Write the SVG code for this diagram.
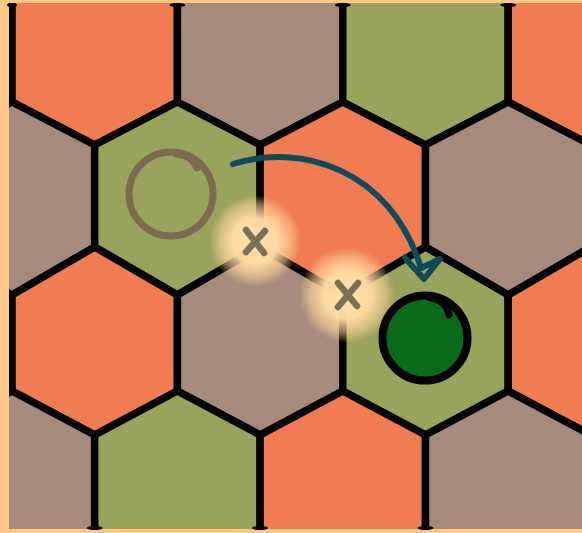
<svg xmlns="http://www.w3.org/2000/svg" width="582" height="533" viewBox="0 0 582 533">
  <style>
    .hex { stroke: #000; stroke-width: 7.5; stroke-linejoin: miter; }
    .o { fill: #F07C52; }
    .g { fill: #A48B7D; }
    .v { fill: #9AA35B; }
    .cap { fill: #000; }
    .xm { stroke: #7A7152; stroke-width: 6.5; stroke-linecap: round; fill: none; }
    .arrow { stroke: #0E4A5A; stroke-width: 6; fill: none; stroke-linecap: round; stroke-linejoin: round; }
  </style>
  <defs>
    <clipPath id="board">
      <rect x="9" y="3" width="580" height="526"/>
    </clipPath>
    <radialGradient id="glow" cx="0.5" cy="0.5" r="0.5">
      <stop offset="0" stop-color="#FFE2AE" stop-opacity="1"/>
      <stop offset="0.5" stop-color="#FFDBA2" stop-opacity="0.97"/>
      <stop offset="0.78" stop-color="#FFD49A" stop-opacity="0.55"/>
      <stop offset="1" stop-color="#FFD49A" stop-opacity="0"/>
    </radialGradient>
  </defs>
  <rect x="0" y="0" width="582" height="533" fill="#FFC884"/>
  <g id="grid" clip-path="url(#board)">
    <!-- Row 1 -->
    <polygon id="hex-r1c1" class="hex o" points="12,-60 177.4,-60 177.4,102 94.7,145 12,102"/>
    <polygon id="hex-r1c2" class="hex g" points="177.4,-60 342.8,-60 342.8,102 260.1,145 177.4,102"/>
    <polygon id="hex-r1c3" class="hex v" points="342.8,-60 508.2,-60 508.2,102 425.5,145 342.8,102"/>
    <polygon id="hex-r1c4" class="hex o" points="508.2,-60 673.6,-60 673.6,102 590.9,145 508.2,102"/>
    <!-- Row 2 -->
    <polygon id="hex-r2c0" class="hex g" points="12,102 94.7,145 94.7,247 12,295 -70.7,247 -70.7,145"/>
    <polygon id="hex-r2c1" class="hex v" points="177.4,102 260.1,145 260.1,247 177.4,295 94.7,247 94.7,145"/>
    <polygon id="hex-r2c2" class="hex o" points="342.8,102 425.5,145 425.5,247 342.8,295 260.1,247 260.1,145"/>
    <polygon id="hex-r2c3" class="hex g" points="508.2,102 590.9,145 590.9,247 508.2,295 425.5,247 425.5,145"/>
    <!-- Row 3 -->
    <polygon id="hex-r3c1" class="hex o" points="94.7,247 177.4,295 177.4,391 94.7,435 12,391 12,295"/>
    <polygon id="hex-r3c2" class="hex g" points="260.1,247 342.8,295 342.8,391 260.1,435 177.4,391 177.4,295"/>
    <polygon id="hex-r3c3" class="hex v" points="425.5,247 508.2,295 508.2,391 425.5,435 342.8,391 342.8,295"/>
    <polygon id="hex-r3c4" class="hex o" points="590.9,247 673.6,295 673.6,391 590.9,435 508.2,391 508.2,295"/>
    <!-- Row 4 -->
    <polygon id="hex-r4c0" class="hex g" points="12,391 94.7,435 94.7,620 -70.7,620 -70.7,435"/>
    <polygon id="hex-r4c1" class="hex v" points="177.4,391 260.1,435 260.1,620 94.7,620 94.7,435"/>
    <polygon id="hex-r4c2" class="hex o" points="342.8,391 425.5,435 425.5,620 260.1,620 260.1,435"/>
    <polygon id="hex-r4c3" class="hex g" points="508.2,391 590.9,435 590.9,620 425.5,620 425.5,435"/>
  </g>
  <g id="line-caps">
    <ellipse class="cap" cx="12" cy="5" rx="5" ry="2"/>
    <ellipse class="cap" cx="177.4" cy="5" rx="8" ry="2"/>
    <ellipse class="cap" cx="342.8" cy="5" rx="8" ry="2"/>
    <ellipse class="cap" cx="508.2" cy="5" rx="8" ry="2"/>
    <ellipse class="cap" cx="94.7" cy="528" rx="8" ry="2"/>
    <ellipse class="cap" cx="260.1" cy="528" rx="8" ry="2"/>
    <ellipse class="cap" cx="425.5" cy="528" rx="8" ry="2"/>
  </g>
  <g id="glows">
    <circle cx="255" cy="241" r="46" fill="url(#glow)"/>
    <circle cx="347" cy="295" r="48" fill="url(#glow)"/>
  </g>
  <g id="mark-x1">
    <path class="xm" d="M246,230 L264,253 M265,231 L246,252"/>
  </g>
  <g id="mark-x2">
    <path class="xm" d="M338,283 L357,306 M358,283 L338,307"/>
  </g>
  <g id="start-ring">
    <circle cx="171" cy="194" r="42" fill="none" stroke="#7B6C50" stroke-width="7"/>
    <path d="M176,154 Q192,155 197,168" fill="none" stroke="#7B6C50" stroke-width="7" stroke-linecap="round"/>
  </g>
  <g id="target-piece">
    <circle cx="425" cy="338" r="42.5" fill="#0A6A1C" stroke="#000" stroke-width="8"/>
    <path d="M430,298 Q446,300 449,315" fill="none" stroke="#000" stroke-width="7" stroke-linecap="round"/>
  </g>
  <g id="connectors">
    <path class="arrow" d="M233,164 C300,143 390,168 421,268"/>
    <path class="arrow" d="M405,258 L424,279 L440,259 L421,268"/>
  </g>
</svg>
